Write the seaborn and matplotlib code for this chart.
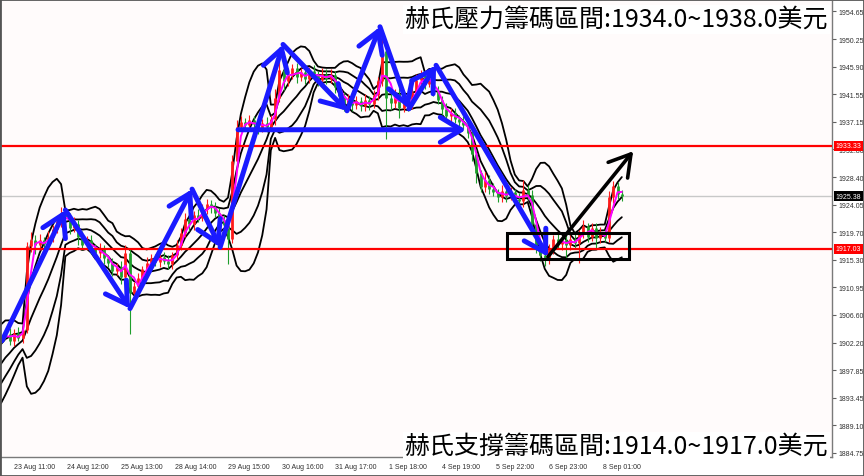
import numpy as np
import pandas as pd
import matplotlib
matplotlib.use("Agg")
import matplotlib.pyplot as plt
import seaborn as sns
from matplotlib.patches import Rectangle

# x unit: hours after 23 Aug 11:00, one candle every 2 hours
hist_close = [1897.0, 1896.2, 1895.4, 1896.8, 1898.0, 1897.2, 1896.0, 1894.8, 1895.6, 1897.4,
              1899.0, 1898.2, 1897.6, 1896.0, 1895.2,
              1894.0, 1895.2, 1895.8, 1897.0, 1898.6, 1899.8, 1900.6, 1901.8, 1902.6, 1903.4]

close = [1903.6, 1902.5, 1903.8, 1903.0, 1904.2,
         1917.5, 1918.5, 1917.6, 1918.4, 1917.8,
         1919.0, 1920.2, 1921.4, 1922.6, 1922.0,
         1920.4, 1921.0, 1919.0, 1917.6, 1918.4,
         1917.2, 1916.4, 1917.0, 1915.6, 1914.8,
         1913.6, 1914.2, 1912.6, 1916.4, 1910.0,
         1911.2, 1912.5, 1913.8, 1914.8, 1915.6,
         1915.0, 1915.8, 1915.2, 1914.6, 1916.0,
         1917.6, 1919.6, 1921.8, 1921.0, 1922.4,
         1922.0, 1923.4, 1924.2, 1923.6, 1922.8,
         1921.6, 1920.8, 1918.6, 1931.0, 1936.4,
         1937.2, 1936.6, 1937.4, 1936.8, 1936.2,
         1937.0, 1936.4, 1937.6, 1941.0, 1945.4,
         1943.6, 1944.6, 1945.6, 1944.2, 1945.0,
         1944.0, 1945.2, 1944.6, 1943.8, 1944.8,
         1944.0, 1944.6, 1942.6, 1941.2, 1940.0,
         1940.6, 1939.8, 1940.4, 1939.6, 1940.6,
         1940.0, 1941.4, 1943.6, 1948.4, 1941.0,
         1940.2, 1941.6, 1939.4, 1940.2, 1939.8,
         1941.8, 1943.8, 1944.6, 1943.2, 1944.0,
         1942.0, 1940.6, 1939.2, 1938.0, 1938.6,
         1937.6, 1937.2, 1936.6, 1935.4, 1932.0,
         1929.0, 1926.8, 1928.0, 1926.6, 1926.0,
         1925.2, 1926.2, 1925.4, 1926.0, 1925.0,
         1924.6, 1926.4, 1925.6, 1921.0, 1917.4,
         1916.0, 1915.4, 1917.0, 1918.6, 1917.8,
         1918.4, 1917.6, 1918.6, 1918.0, 1919.4,
         1920.6, 1919.0, 1920.4, 1918.8, 1919.6,
         1918.8, 1925.2, 1927.0, 1925.8, 1925.38]

wick_up = [0.6, 0.9, 0.5, 0.8, 0.7, 0.6, 1.2, 0.8, 1.0, 0.6,
           0.8, 0.6, 0.9, 1.0, 0.7, 0.8, 1.1, 0.6, 0.9, 0.7,
           0.8, 0.6, 1.0, 0.7, 0.5, 0.8, 0.6, 0.9, 1.2, 0.7,
           0.6, 0.8, 0.5, 0.9, 0.7, 0.6, 0.8, 0.7, 0.9, 0.6,
           0.8, 0.7, 0.9, 0.8, 0.6, 0.9, 0.7, 0.8, 0.6, 0.9,
           0.7, 0.8, 0.6, 0.9, 1.1, 0.8, 0.6, 0.9, 0.7, 0.8,
           0.6, 0.9, 0.7, 1.4, 2.6, 0.8, 1.0, 0.7, 0.9, 0.6,
           0.8, 0.7, 0.9, 0.6, 0.8, 0.7, 0.9, 0.6, 0.8, 0.7,
           0.9, 0.6, 0.8, 0.7, 0.9, 0.6, 0.8, 0.7, 2.0, 0.6,
           0.8, 0.7, 0.9, 0.6, 0.8, 0.7, 1.0, 0.8, 0.6, 0.9,
           0.7, 0.8, 0.6, 0.9, 0.7, 0.8, 0.6, 0.9, 0.7, 0.8,
           0.9, 0.6, 1.2, 0.7, 0.8, 0.6, 0.9, 0.7, 0.8, 0.6,
           0.9, 1.6, 0.7, 0.8, 0.6, 0.7, 0.9, 0.8, 0.6, 0.9,
           0.7, 0.8, 0.6, 0.9, 0.7, 1.0, 0.6, 0.8, 0.7, 0.9,
           0.6, 1.0, 0.8, 0.7, 0.6]

wick_dn = [0.7, 0.6, 0.9, 0.5, 0.8, 0.4, 0.9, 1.4, 0.7, 1.0,
           0.6, 0.8, 0.7, 0.9, 1.2, 1.0, 0.7, 1.3, 0.8, 0.6,
           0.9, 0.7, 0.8, 1.0, 0.6, 0.8, 0.7, 1.1, 0.6, 6.4,
           0.9, 0.7, 0.8, 0.6, 1.0, 0.7, 0.9, 0.6, 0.8, 0.7,
           0.6, 0.8, 0.7, 1.2, 0.9, 0.7, 0.6, 0.8, 0.9, 0.7,
           0.8, 0.9, 4.0, 0.6, 0.8, 0.7, 0.9, 0.6, 0.8, 1.0,
           0.7, 0.8, 0.6, 0.9, 0.7, 1.4, 0.8, 0.7, 0.9, 0.6,
           0.8, 0.7, 0.9, 1.0, 0.6, 0.8, 0.7, 0.9, 0.6, 1.1,
           0.7, 0.9, 0.6, 0.8, 0.7, 0.9, 0.6, 0.8, 0.7, 6.6,
           1.2, 0.8, 1.6, 0.7, 0.9, 0.6, 0.8, 0.7, 0.9, 0.6,
           0.8, 0.7, 0.9, 0.6, 0.8, 0.7, 0.9, 0.6, 0.8, 1.0,
           1.6, 0.8, 0.7, 0.9, 0.6, 0.8, 0.7, 0.9, 0.6, 0.8,
           0.7, 0.9, 0.8, 0.6, 1.0, 0.9, 1.0, 0.7, 0.8, 0.6,
           0.9, 2.0, 0.7, 0.8, 3.2, 0.6, 0.9, 0.7, 1.6, 0.8,
           0.7, 0.6, 0.9, 0.8, 0.7]

tick_hours = [0, 25, 50, 75, 100, 125, 150, 175, 200, 225, 250, 275]
tick_labels = ["23 Aug 11:00", "24 Aug 12:00", "25 Aug 13:00", "28 Aug 14:00",
               "29 Aug 15:00", "30 Aug 16:00", "31 Aug 17:00", "1 Sep 18:00",
               "4 Sep 19:00", "5 Sep 22:00", "6 Sep 23:00", "8 Sep 01:00"]
price_ticks = [1954.65, 1950.25, 1945.90, 1941.55, 1937.15, 1932.80, 1928.40, 1924.05,
               1919.70, 1915.30, 1910.95, 1906.60, 1902.20, 1897.85, 1893.45, 1889.10, 1884.75]

resist_level = 1933.33
support_level = 1917.03
last_price = 1925.38

# hand drawn arrows (hour, price)
zig_h = [-5.6, 24.0, 54.2, 83.2, 96.3, 125.7, 155.6, 171.0, 184.5, 197.2, 249.5]
zig_p = [1902.5, 1923.2, 1907.6, 1926.5, 1917.3, 1949.4, 1938.9, 1952.2, 1939.2, 1946.1, 1915.8]
flat_h = [104.7, 211.2]
flat_p = [1935.9, 1935.9]
up_h = [249.5, 289.3]
up_p = [1915.8, 1932.5]
box_h = [230.4, 287.4]
box_p = [1915.44, 1919.56]

title_top = "赫氏壓力籌碼區間:1934.0~1938.0美元"
title_bottom = "赫氏支撐籌碼區間:1914.0~1917.0美元"

sns.set_style("white")
plt.rcParams["font.family"] = ["Liberation Sans", "DejaVu Sans"]
cjk = ["Noto Sans CJK TC", "DejaVu Sans"]

all_close = pd.Series(hist_close + close)
n_hist = len(hist_close)
hours_all = -4 + 2 * (np.arange(len(all_close)) - n_hist)
hours = hours_all[n_hist:]

c = np.array(close)
o = all_close.shift(1).to_numpy()[n_hist:]
hi = np.maximum(o, c) + np.array(wick_up)
lo = np.minimum(o, c) - np.array(wick_dn)
cols = np.where(c >= o, "#ff1a1a", "#1f9e2c")

# moving average + double bollinger band (20 h)
ma = all_close.rolling(3).mean()
mid = all_close.rolling(10).mean()
sd = all_close.rolling(10).std(ddof=0)

ind = pd.DataFrame({"h": hours_all, "ma": ma, "up2": mid + 2 * sd, "up1": mid + sd, "mid": mid,
                    "lo1": mid - sd, "lo2": mid - 2 * sd})
ind = ind[ind["h"] >= -8]

fig = plt.figure(figsize=(8.64, 4.77), dpi=100)
fig.patch.set_facecolor("white")
ax = fig.add_axes([1 / 864, 19 / 477, 831 / 864, 456 / 477])
ax.set_facecolor("#fffbfb")

ax.axhline(last_price, color="#c8c8c8", lw=1, zorder=1)

for col in ["up2", "up1", "mid", "lo1", "lo2"]:
    sns.lineplot(data=ind, x="h", y=col, color="black", lw=1.3, ax=ax, zorder=2)

ax.vlines(hours, lo, hi, colors=cols, lw=0.8, zorder=3)
ax.vlines(hours, np.minimum(o, c), np.maximum(o, c), colors=cols, lw=2.0, zorder=3)

sns.lineplot(data=ind, x="h", y="ma", color="#ff00ff", lw=1.4, ax=ax, zorder=4)

ax.axhline(resist_level, color="#ff0000", lw=1.6, zorder=5)
ax.axhline(support_level, color="#ff0000", lw=1.6, zorder=5)

head = "->,head_length=0.75,head_width=0.45"
for k in range(len(zig_h) - 1):
    ax.annotate("", xy=(zig_h[k + 1], zig_p[k + 1]), xytext=(zig_h[k], zig_p[k]),
                arrowprops=dict(arrowstyle=head, color="#1a1aff", lw=3.6,
                                mutation_scale=20, shrinkA=0, shrinkB=0), zorder=6)
ax.annotate("", xy=(flat_h[1], flat_p[1]), xytext=(flat_h[0], flat_p[0]),
            arrowprops=dict(arrowstyle=head, color="#1a1aff", lw=3.6,
                            mutation_scale=20, shrinkA=0, shrinkB=0), zorder=6)
ax.annotate("", xy=(up_h[1], up_p[1]), xytext=(up_h[0], up_p[0]),
            arrowprops=dict(arrowstyle=head, color="black", lw=2.6,
                            mutation_scale=20, shrinkA=0, shrinkB=0), zorder=6)
ax.add_patch(Rectangle((box_h[0], box_p[0]), box_h[1] - box_h[0], box_p[1] - box_p[0],
                       fill=False, ec="black", lw=2.2, zorder=6))

ax.set_xlim(-6.07, 382.2)
ax.set_ylim(1884.10, 1956.28)
ax.set_xlabel("")
ax.set_ylabel("")

ax.yaxis.tick_right()
ax.set_yticks(price_ticks)
ax.set_yticklabels([f"{v:.2f}" for v in price_ticks])
ax.set_xticks(tick_hours)
ax.set_xticklabels(tick_labels, ha="left")
ax.tick_params(axis="both", labelsize=5, labelcolor="#303030", color="#606060",
               length=3, width=0.8, pad=1.5)
for s in ["top", "left"]:
    ax.spines[s].set_visible(False)
for s in ["bottom", "right"]:
    ax.spines[s].set_color("#7a7a7a")
    ax.spines[s].set_linewidth(1)

tr = ax.get_yaxis_transform()
for val, bg in [(resist_level, "#ff0000"), (support_level, "#ff0000"), (last_price, "black")]:
    ax.text(1.0045, val, f"{val:.2f}", transform=tr, ha="left", va="center", fontsize=5,
            color="white", clip_on=False, zorder=7,
            bbox=dict(boxstyle="square,pad=0.2", fc=bg, ec="none"))

fig.text(828 / 864, 1 - 20 / 477, title_top, ha="right", va="center", fontsize=18,
         family=cjk, color="black", bbox=dict(fc="white", ec="none", pad=1))
fig.text(828 / 864, 1 - 447 / 477, title_bottom, ha="right", va="center", fontsize=18,
         family=cjk, color="black", bbox=dict(fc="white", ec="none", pad=1))

fig.patches.append(Rectangle((0, 0), 1, 1, transform=fig.transFigure, fill=False,
                             ec="#555555", lw=2))

fig.savefig("out.png", dpi=100)
